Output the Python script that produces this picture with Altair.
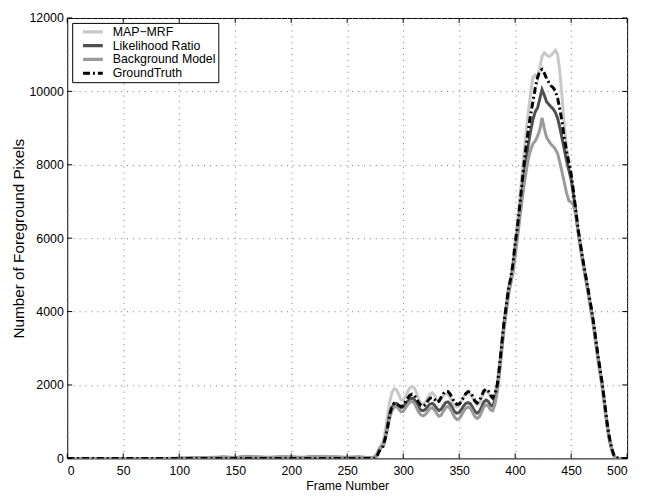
import altair as alt
import pandas as pd

# ---- data ----
frames_low = list(range(0, 271, 10))          # 0..270
frames_act = list(range(272, 495, 2))         # 272..494
frames_end = [500]

gt_low = [0] * 28
map_low = [0,0,0,0,0,0,0,0,0,0,0,0,10,20,40,30,60,40,30,50,40,30,50,60,40,30,50,20]
lr_low = [0,0,0,0,0,0,0,0,0,0,0,10,10,20,30,20,40,30,20,30,30,20,40,30,30,20,30,10]
bm_low = [0,0,0,0,0,0,0,0,0,0,10,10,20,30,40,20,50,40,30,40,40,30,50,40,40,30,40,20]

gt_act = [0,0,30,150,280,330,550,850,1200,1420,
          1500,1480,1440,1410,1440,1540,1640,1720,1750,1720,
          1620,1510,1440,1420,1470,1570,1640,1660,1610,1530,
          1560,1670,1770,1820,1820,1750,1630,1520,1470,1480,
          1550,1670,1770,1820,1800,1700,1570,1510,1560,1700,
          1840,1890,1840,1720,1650,1760,2000,2500,3100,3700,
          4150,4600,4900,5300,5850,6300,6850,7450,8050,8550,
          9000,9400,9750,10100,10380,10550,10600,10500,10350,10250,
          10150,10100,10000,9800,9500,9150,8700,8350,8050,7750,
          7300,6800,6300,5900,5500,5150,4800,4450,4100,3700,
          3250,2800,2400,2000,1500,1000,600,300,100,30,
          0,0]
map_act = [30,50,100,250,350,450,750,1150,1550,1800,
           1900,1870,1750,1600,1580,1680,1820,1920,1960,1920,
           1780,1600,1500,1480,1540,1650,1750,1790,1720,1600,
           1550,1620,1720,1760,1740,1650,1520,1430,1400,1440,
           1550,1680,1760,1790,1760,1650,1520,1460,1500,1640,
           1800,1850,1800,1680,1620,1780,2050,2550,3150,3750,
           4200,4700,4950,5350,5950,6450,7050,7700,8350,8950,
           9500,10000,10400,10450,10350,10650,10950,11050,11000,10950,
           10980,11050,11120,11000,10500,9800,9050,8450,8000,7650,
           7200,6700,6200,5800,5400,5050,4700,4350,3950,3550,
           3100,2650,2250,1850,1350,900,500,250,80,20,
           0,0]
lr_act = [10,20,60,180,300,330,550,850,1200,1400,
          1480,1500,1450,1380,1400,1480,1560,1620,1640,1600,
          1500,1380,1310,1300,1340,1420,1480,1500,1450,1360,
          1300,1340,1440,1520,1540,1480,1370,1270,1230,1250,
          1330,1430,1500,1520,1490,1390,1280,1230,1270,1400,
          1540,1590,1550,1450,1420,1600,1900,2400,3000,3600,
          4050,4500,4800,5150,5650,6100,6650,7200,7750,8200,
          8600,8950,9250,9450,9550,9800,10050,9900,9720,9650,
          9580,9520,9420,9260,9000,8700,8400,8100,7850,7600,
          7200,6750,6250,5850,5450,5100,4750,4400,4050,3650,
          3200,2750,2350,1950,1450,950,550,280,90,20,
          0,0]
bm_act = [20,30,80,200,300,320,520,800,1100,1300,
          1400,1420,1350,1270,1280,1370,1460,1530,1550,1500,
          1380,1250,1180,1160,1200,1290,1360,1380,1320,1220,
          1150,1180,1290,1380,1420,1360,1240,1120,1060,1080,
          1170,1290,1370,1400,1370,1260,1140,1090,1130,1260,
          1400,1460,1420,1320,1300,1480,1800,2300,2900,3500,
          3950,4450,4750,5050,5500,6000,6500,7000,7450,7850,
          8200,8420,8580,8650,8780,8950,9280,9000,8750,8650,
          8560,8500,8420,8300,8050,7780,7500,7220,7020,6980,
          6900,6650,6200,5800,5400,5050,4700,4350,4000,3600,
          3150,2700,2300,1900,1400,900,520,260,80,20,
          0,0]

series_names = ["MAP\u2212MRF", "Likelihood Ratio", "Background Model", "GroundTruth"]
series_colors = ["#c8c8c8", "#505050", "#9a9a9a", "#000000"]
series_dash = [[1, 0], [1, 0], [1, 0], [7, 3, 2, 3]]

x_ticks = [0, 50, 100, 150, 200, 250, 300, 350, 400, 450, 500]
y_ticks = [0, 2000, 4000, 6000, 8000, 10000, 12000]

frames = frames_low + frames_act + frames_end
values = {
    series_names[0]: map_low + map_act + [0],
    series_names[1]: lr_low + lr_act + [0],
    series_names[2]: bm_low + bm_act + [0],
    series_names[3]: gt_low + gt_act + [0],
}
rows = []
for name in series_names:
    for f, v in zip(frames, values[name]):
        rows.append({"frame": f, "pixels": v, "series": name})
df = pd.DataFrame(rows)

W, H = 567, 446
FONT = "Liberation Sans"

xscale = alt.Scale(domain=[0, 500], nice=False, zero=False)
yscale = alt.Scale(domain=[0, 12000], nice=False)
xaxis = alt.Axis(title="Frame Number", values=x_ticks, grid=True,
                 ticks=False, domain=False, labelPadding=6, titlePadding=3)
yaxis = alt.Axis(title="Number of Foreground Pixels", values=y_ticks,
                 grid=True, ticks=False, domain=False, format="d",
                 labelPadding=4, titlePadding=3, titleFontSize=15.5)
X = alt.X("frame:Q", scale=xscale, axis=xaxis)
Y = alt.Y("pixels:Q", scale=yscale, axis=yaxis)

lines = alt.Chart(df).mark_line(strokeWidth=3, clip=True).encode(
    x=X, y=Y,
    color=alt.Color("series:N",
                    scale=alt.Scale(domain=series_names, range=series_colors),
                    legend=alt.Legend(title=None, orient="top-left")),
    strokeDash=alt.StrokeDash("series:N",
                              scale=alt.Scale(domain=series_names, range=series_dash),
                              legend=alt.Legend(title=None, orient="top-left")),
    strokeWidth=alt.StrokeWidth("series:N",
                                scale=alt.Scale(domain=series_names, range=[3.2, 3.2, 3.2, 2.6]),
                                legend=None),
)

xt = pd.DataFrame({"frame": x_ticks})
yt = pd.DataFrame({"pixels": y_ticks})
tick_col = "#000000"
bottom_ticks = alt.Chart(xt).mark_rule(color=tick_col, strokeWidth=1).encode(
    x=X, y=alt.value(H), y2=alt.value(H - 5))
top_ticks = alt.Chart(xt).mark_rule(color=tick_col, strokeWidth=1).encode(
    x=X, y=alt.value(0), y2=alt.value(5))
left_ticks = alt.Chart(yt).mark_rule(color=tick_col, strokeWidth=1).encode(
    y=Y, x=alt.value(0), x2=alt.value(5))
right_ticks = alt.Chart(yt).mark_rule(color=tick_col, strokeWidth=1).encode(
    y=Y, x=alt.value(W), x2=alt.value(W - 5))

chart = alt.layer(lines, bottom_ticks, top_ticks, left_ticks, right_ticks).properties(
    width=W, height=H,
    autosize=alt.AutoSizeParams(type="none"),
    padding={"left": 60, "top": 7, "right": 11, "bottom": 36},
    background="white",
).configure_view(
    stroke="#000000", strokeWidth=1
).configure_axis(
    labelFont=FONT, titleFont=FONT, labelFontSize=12.5, titleFontSize=12.5,
    labelColor="#000000", titleColor="#000000", titleFontWeight="normal",
    gridColor="#777777", gridDash=[1, 5], gridWidth=1, gridOpacity=1,
).configure_legend(
    labelFont=FONT, labelFontSize=12.5, labelColor="#000000",
    symbolType="stroke", symbolSize=400, symbolStrokeWidth=3,
    strokeColor="#000000", fillColor="#ffffff", padding=2, offset=5,
    symbolOffset=7, rowPadding=0, labelOffset=8, cornerRadius=0,
    symbolOpacity=1, clipHeight=14,
)

chart.save("out.html", embed_options={"renderer": "svg", "actions": False})
